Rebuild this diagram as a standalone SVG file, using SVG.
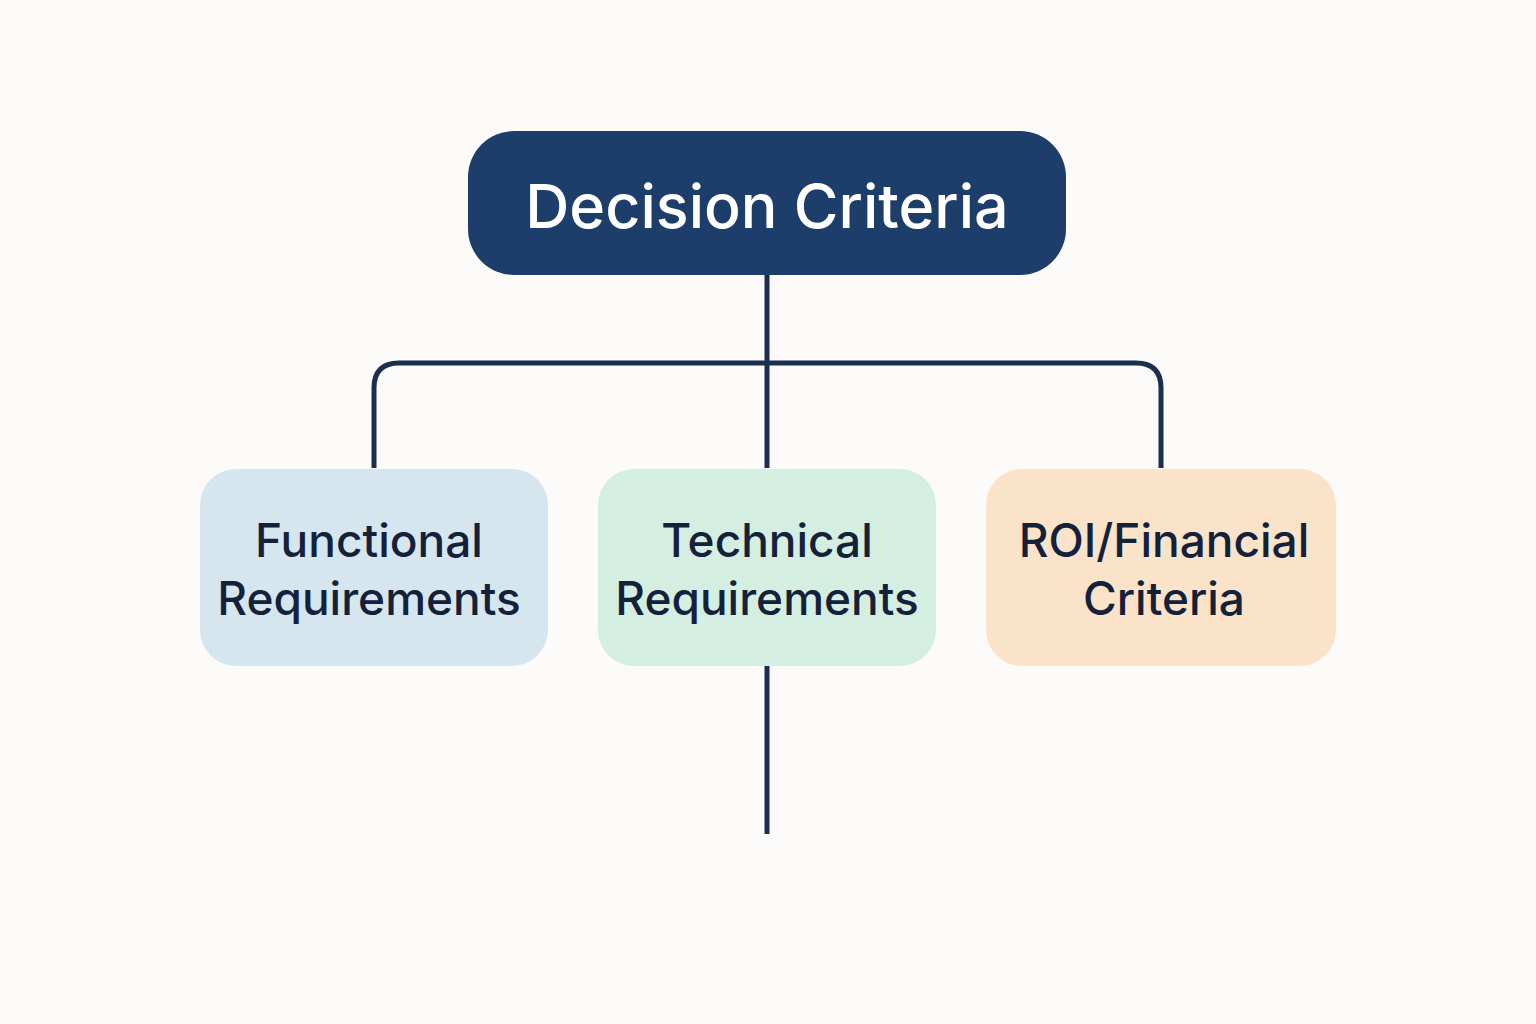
<svg xmlns="http://www.w3.org/2000/svg" width="1536" height="1024" viewBox="0 0 1536 1024">
<style>
.conn{fill:none;stroke:#1a2e4f;stroke-width:5;stroke-linecap:butt}
.t{font-family:Inter,"Noto Sans",sans-serif;font-weight:500;text-anchor:middle}
.title{fill:#ffffff;font-size:61px}
.lbl{fill:#14213a;font-size:46px}
</style>
<rect width="1536" height="1024" fill="#fcfbf9"/>
<g id="connectors">
<path class="conn" d="M767 275 V468"/>
<path class="conn" d="M374 468 V388 Q374 363 399 363 H1136 Q1161 363 1161 388 V468"/>
<path class="conn" d="M767 666 V834"/>
</g>
<g id="node-decision">
<rect x="468" y="131" width="598" height="144" rx="46" fill="#1d3d6b"/>
<text class="t title" x="767" y="228">Decision Criteria</text>
</g>
<g id="node-functional">
<rect x="200" y="469" width="348" height="197" rx="36" fill="#d6e6ef"/>
<text class="t lbl" x="369" y="557">Functional</text>
<text class="t lbl" x="369" y="615">Requirements</text>
</g>
<g id="node-technical">
<rect x="598" y="469" width="338" height="197" rx="36" fill="#d5eee2"/>
<text class="t lbl" x="767" y="557">Technical</text>
<text class="t lbl" x="767" y="615">Requirements</text>
</g>
<g id="node-roi">
<rect x="986" y="469" width="350" height="197" rx="36" fill="#fbe3c9"/>
<text class="t lbl" x="1164" y="557">ROI/Financial</text>
<text class="t lbl" x="1164" y="615">Criteria</text>
</g>
</svg>
